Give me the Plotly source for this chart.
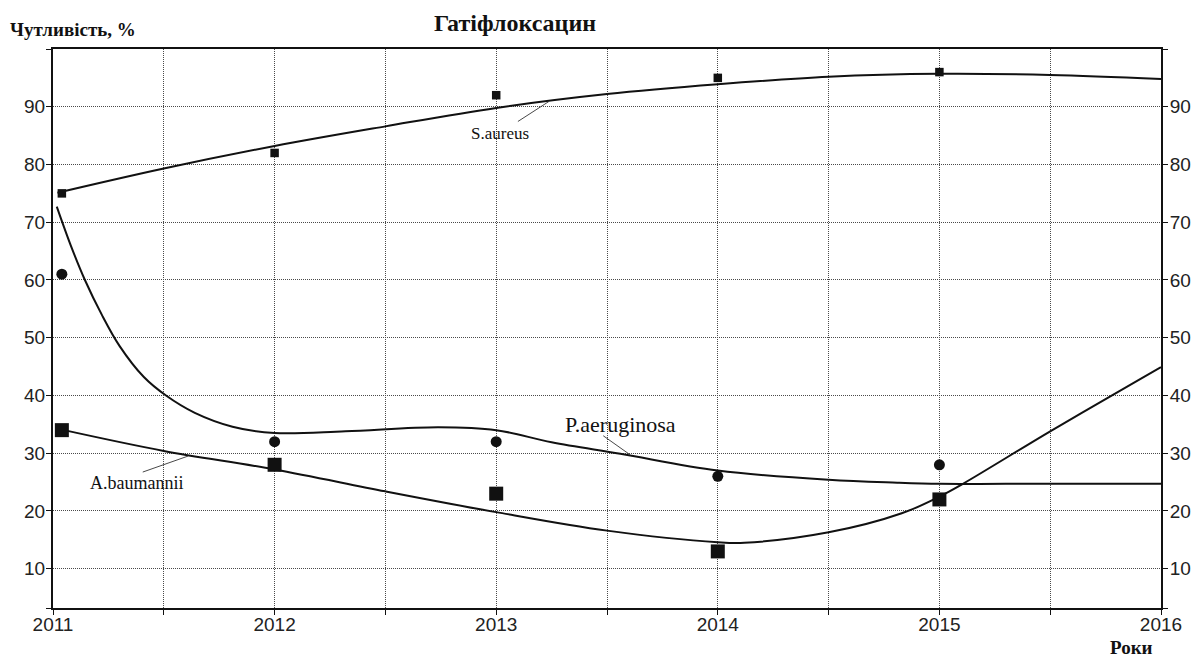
import plotly.graph_objects as go

# Observed susceptibility, % (first year nudged right so markers clear the axis)
point_years = [2011.04, 2012, 2013, 2014, 2015]
s_aureus = [75, 82, 92, 95, 96]
p_aeruginosa = [61, 32, 32, 26, 28]
a_baumannii = [34, 28, 23, 13, 22]

# Smoothed trend curves (knots)
s_trend_x = [2011.02, 2011.5, 2012, 2012.5, 2013, 2013.5, 2014, 2014.5, 2015, 2015.5, 2016]
s_trend_y = [75.1, 79.3, 83.2, 86.6, 89.8, 92.2, 93.9, 95.2, 95.7, 95.5, 94.8]

p_trend_x = [2011.017, 2011.08, 2011.144, 2011.22, 2011.30, 2011.41, 2011.51, 2011.64,
             2011.81, 2012.0, 2012.32, 2012.74, 2013.0, 2013.25, 2013.56, 2014.0,
             2014.5, 2014.81, 2015.0, 2015.3, 2016.0]
p_trend_y = [72.7, 66.0, 60.0, 54.0, 48.6, 43.2, 40.0, 37.0,
             34.6, 33.5, 33.8, 34.5, 34.0, 31.9, 29.9, 27.0,
             25.4, 24.9, 24.7, 24.7, 24.7]

a_trend_x = [2011.05, 2011.5, 2012.0, 2012.5, 2013.0, 2013.5, 2014.0, 2014.12, 2014.5,
             2014.83, 2015.0, 2015.11, 2015.5, 2015.9, 2016.0]
a_trend_y = [34.0, 30.4, 27.2, 23.4, 19.8, 16.6, 14.6, 14.5, 16.3,
             19.6, 22.5, 24.8, 33.8, 42.7, 44.9]

# Axis ticks
x_tickvals = [2011, 2011.5, 2012, 2012.5, 2013, 2013.5, 2014, 2014.5, 2015, 2015.5, 2016]
x_ticktext = ["2011", "", "2012", "", "2013", "", "2014", "", "2015", "", "2016"]
y_range = [3.2, 100]
y_tickvals = [3.2, 10, 20, 30, 40, 50, 60, 70, 80, 90, 100]
y_ticktext = ["", "10", "20", "30", "40", "50", "60", "70", "80", "90", ""]

# Curve labels: text, centre, size, leader start -> leader end
label_text = ["S.aureus", "P.aeruginosa", "A.baumannii"]
label_x = [2013.017, 2013.559, 2011.375]
label_y = [85.3, 34.9, 24.9]
label_size = [17, 22, 18]
leader_x0 = [2013.098, 2013.483, 2011.405]
leader_y0 = [87.45, 33.03, 26.74]
leader_x1 = [2013.238, 2013.604, 2011.609]
leader_y1 = [90.92, 29.74, 29.5]

SANS = "Liberation Sans"
SERIF = "Liberation Serif"
INK = "#111111"

fig = go.Figure()

for tx, ty in [(s_trend_x, s_trend_y), (p_trend_x, p_trend_y), (a_trend_x, a_trend_y)]:
    fig.add_trace(go.Scatter(
        x=tx, y=ty, mode="lines",
        line=dict(color=INK, width=2, shape="spline", smoothing=1.0),
        showlegend=False, hoverinfo="skip",
    ))

fig.add_trace(go.Scatter(
    x=point_years, y=p_aeruginosa, mode="markers",
    marker=dict(symbol="circle", size=11, color=INK),
    showlegend=False,
))
fig.add_trace(go.Scatter(
    x=point_years, y=a_baumannii, mode="markers",
    marker=dict(symbol="square", size=14, color=INK),
    showlegend=False,
))
fig.add_trace(go.Scatter(
    x=point_years, y=s_aureus, mode="markers", yaxis="y2",
    marker=dict(symbol="square", size=8.5, color=INK),
    showlegend=False,
))

for t, x, y, s in zip(label_text, label_x, label_y, label_size):
    fig.add_annotation(x=x, y=y, xref="x", yref="y", text=t, showarrow=False,
                       font=dict(family=SERIF, size=s, color=INK),
                       xanchor="center", yanchor="middle")

for x0, y0, x1, y1 in zip(leader_x0, leader_y0, leader_x1, leader_y1):
    fig.add_shape(type="line", xref="x", yref="y", x0=x0, y0=y0, x1=x1, y1=y1,
                  line=dict(color="#333333", width=0.9))

fig.add_annotation(text="<b>Чутливість, %</b>", xref="paper", yref="paper",
                   x=-0.0406, y=1.035, xanchor="left", yanchor="middle",
                   showarrow=False, font=dict(family=SERIF, size=19, color=INK))
fig.add_annotation(text="<b>Роки</b>", xref="paper", yref="paper",
                   x=0.9946, y=-0.071, xanchor="right", yanchor="middle",
                   showarrow=False, font=dict(family=SERIF, size=19, color=INK))

grid = dict(showgrid=True, gridcolor="#4a4a4a", gridwidth=1, griddash="1px,1px")
tickstyle = dict(ticks="outside", ticklen=5, tickcolor=INK, tickwidth=1,
                 zeroline=False, automargin=False,
                 tickfont=dict(family=SANS, size=19, color="#222222"))

fig.update_layout(
    width=1193, height=657,
    margin=dict(l=53, r=32, t=49, b=49),
    paper_bgcolor="white", plot_bgcolor="white",
    title=dict(text="<b>Гатіфлоксацин</b>", x=0.4317, y=0.965,
               xanchor="center", yanchor="middle",
               font=dict(family=SERIF, size=24, color=INK)),
    xaxis=dict(range=[2011, 2016], tickvals=x_tickvals, ticktext=x_ticktext,
               showline=True, linewidth=2, linecolor=INK, mirror=True,
               ticklabelstandoff=-7, **tickstyle, **grid),
    yaxis=dict(range=y_range, tickvals=y_tickvals, ticktext=y_ticktext,
               showline=True, linewidth=2, linecolor=INK, mirror=True,
               ticklabelstandoff=-3, **tickstyle, **grid),
    yaxis2=dict(range=y_range, tickvals=y_tickvals, ticktext=y_ticktext,
                overlaying="y", side="right", showgrid=False,
                showline=True, linewidth=2, linecolor=INK,
                ticklabelstandoff=-2, **tickstyle),
)

fig.write_html("out.html")
